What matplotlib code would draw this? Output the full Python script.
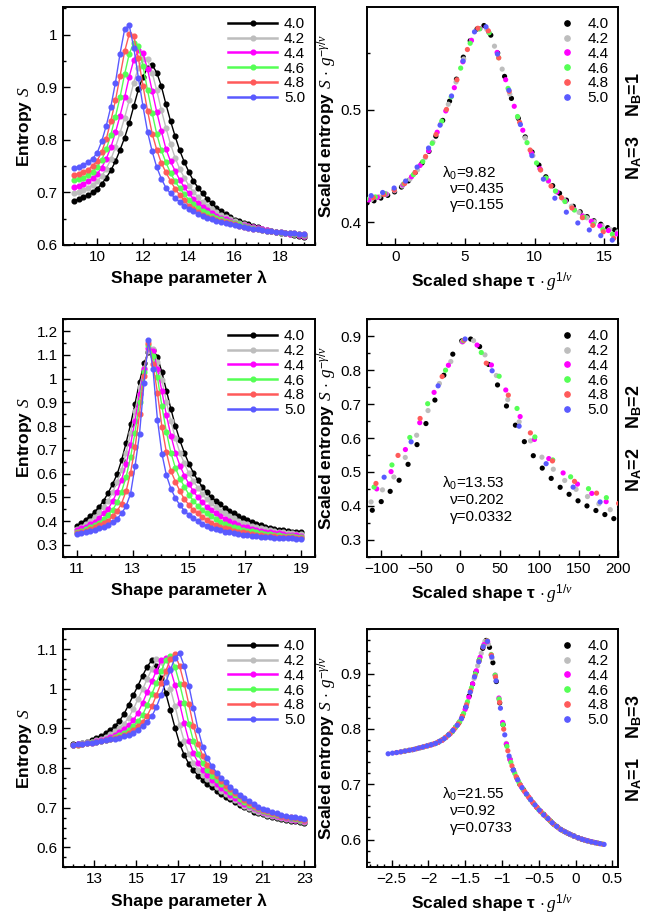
import numpy as np
import matplotlib
matplotlib.use('Agg')
import matplotlib.pyplot as plt
from matplotlib.ticker import MultipleLocator, FuncFormatter
from matplotlib.lines import Line2D

plt.rcParams['font.family'] = ['Liberation Sans', 'DejaVu Sans']
plt.rcParams['mathtext.fontset'] = 'custom'
plt.rcParams['mathtext.rm'] = 'Liberation Sans'
plt.rcParams['mathtext.it'] = 'Liberation Serif:italic'
plt.rcParams['mathtext.bf'] = 'Liberation Sans:bold'

# ---------------- data ----------------
g_values = [4.0, 4.2, 4.4, 4.6, 4.8, 5.0]
g_labels = ['4.0', '4.2', '4.4', '4.6', '4.8', '5.0']
colors = ['#000000', '#bdbdbd', '#ff00ff', '#55ff55', '#ff5a5a', '#5a5aff']

# shape parameter grids (51 points each)
lam_top_start, lam_top_stop = 9.0, 19.0
lam_mid_start, lam_mid_stop = 11.0, 19.0
lam_bot_start, lam_bot_stop = 12.0, 23.0
n_points = 51

# fit parameters printed in the panels
lam0_top, nu_top, gam_top = 9.82, 0.435, 0.155
lam0_mid, nu_mid, gam_mid = 13.53, 0.202, 0.0332
lam0_bot, nu_bot, gam_bot = 21.55, 0.92, 0.0733

# ---- top row (N_A=3, N_B=1) ----
top_g40 = [0.684,0.687,0.691,0.695,0.700,0.707,0.716,0.728,0.742,0.759,0.781,0.804,0.832,0.864,0.896,0.920,0.937,0.942,0.928,0.902,0.868,0.836,0.807,0.780,0.758,0.739,0.722,0.709,0.698,0.688,0.679,0.671,0.664,0.658,0.653,0.648,0.645,0.642,0.639,0.636,0.634,0.631,0.629,0.627,0.625,0.623,0.622,0.620,0.619,0.618,0.616]
top_g42 = [0.699,0.701,0.705,0.709,0.714,0.721,0.731,0.745,0.763,0.786,0.813,0.842,0.875,0.909,0.937,0.954,0.953,0.928,0.894,0.857,0.823,0.792,0.766,0.745,0.728,0.713,0.701,0.691,0.682,0.674,0.668,0.662,0.657,0.653,0.649,0.645,0.642,0.640,0.637,0.635,0.633,0.631,0.629,0.627,0.625,0.624,0.622,0.621,0.620,0.619,0.617]
top_g44 = [0.711,0.712,0.716,0.721,0.727,0.735,0.747,0.764,0.786,0.814,0.846,0.881,0.920,0.952,0.970,0.965,0.934,0.893,0.853,0.817,0.783,0.759,0.741,0.724,0.710,0.698,0.688,0.680,0.673,0.666,0.661,0.656,0.652,0.649,0.6455,0.6425,0.640,0.638,0.636,0.634,0.632,0.630,0.628,0.6265,0.625,0.6235,0.6225,0.6215,0.6205,0.619,0.618]
top_g46 = [0.723,0.725,0.728,0.733,0.739,0.748,0.762,0.782,0.810,0.844,0.881,0.925,0.963,0.985,0.979,0.941,0.894,0.851,0.811,0.780,0.757,0.737,0.721,0.708,0.697,0.686,0.678,0.671,0.665,0.660,0.656,0.652,0.649,0.6465,0.644,0.641,0.639,0.637,0.635,0.633,0.631,0.629,0.6275,0.626,0.6245,0.6235,0.6225,0.622,0.621,0.620,0.619]
top_g48 = [0.734,0.735,0.738,0.743,0.750,0.760,0.777,0.802,0.836,0.875,0.921,0.968,1.001,0.997,0.955,0.903,0.855,0.812,0.781,0.756,0.738,0.722,0.707,0.695,0.685,0.675,0.668,0.662,0.657,0.654,0.651,0.648,0.645,0.643,0.641,0.639,0.637,0.635,0.633,0.631,0.630,0.628,0.627,0.626,0.625,0.624,0.6235,0.623,0.622,0.621,0.620]
top_g50 = [0.746,0.749,0.752,0.757,0.764,0.775,0.797,0.827,0.863,0.909,0.964,1.010,1.018,0.975,0.918,0.864,0.815,0.778,0.748,0.726,0.709,0.698,0.689,0.682,0.675,0.669,0.664,0.659,0.655,0.652,0.649,0.646,0.644,0.642,0.640,0.638,0.636,0.634,0.6325,0.631,0.6295,0.628,0.627,0.626,0.625,0.624,0.6235,0.623,0.622,0.6215,0.621]

# ---- middle row (N_A=2, N_B=2) ----
mid_g40 = [0.379,0.392,0.406,0.421,0.439,0.460,0.486,0.518,0.556,0.597,0.656,0.729,0.807,0.894,0.986,1.064,1.113,1.120,1.092,1.026,0.950,0.872,0.801,0.740,0.688,0.642,0.604,0.571,0.545,0.521,0.502,0.485,0.470,0.455,0.443,0.432,0.421,0.4115,0.403,0.396,0.389,0.3825,0.377,0.372,0.368,0.364,0.361,0.358,0.356,0.354,0.352]
mid_g42 = [0.367,0.377,0.389,0.401,0.419,0.437,0.458,0.486,0.521,0.566,0.614,0.687,0.770,0.862,0.963,1.045,1.118,1.123,1.070,0.993,0.903,0.820,0.749,0.688,0.643,0.601,0.568,0.541,0.514,0.492,0.475,0.458,0.444,0.433,0.423,0.411,0.402,0.394,0.386,0.3795,0.375,0.370,0.365,0.361,0.358,0.355,0.3525,0.350,0.348,0.3465,0.345]
mid_g44 = [0.361,0.369,0.377,0.387,0.397,0.414,0.432,0.451,0.483,0.523,0.574,0.639,0.722,0.823,0.937,1.039,1.128,1.115,1.040,0.946,0.846,0.760,0.688,0.634,0.592,0.557,0.526,0.500,0.479,0.461,0.445,0.434,0.422,0.410,0.399,0.391,0.3835,0.377,0.373,0.368,0.363,0.359,0.356,0.353,0.350,0.348,0.3455,0.3435,0.342,0.3405,0.339]
mid_g46 = [0.355,0.360,0.366,0.374,0.385,0.394,0.4075,0.427,0.447,0.479,0.524,0.585,0.669,0.773,0.901,1.028,1.140,1.095,1.005,0.883,0.775,0.688,0.624,0.579,0.545,0.512,0.485,0.464,0.4455,0.433,0.420,0.408,0.397,0.388,0.380,0.3745,0.369,0.364,0.360,0.3565,0.353,0.350,0.3475,0.345,0.343,0.341,0.339,0.3375,0.336,0.335,0.334]
mid_g48 = [0.351,0.355,0.360,0.367,0.374,0.3835,0.392,0.401,0.421,0.442,0.474,0.526,0.603,0.710,0.851,1.011,1.150,1.062,0.940,0.796,0.689,0.611,0.566,0.527,0.4925,0.468,0.446,0.432,0.419,0.405,0.394,0.385,0.377,0.371,0.365,0.360,0.356,0.352,0.349,0.346,0.3435,0.341,0.339,0.337,0.3355,0.334,0.333,0.332,0.331,0.3305,0.330]
mid_g50 = [0.345,0.349,0.353,0.358,0.363,0.369,0.376,0.385,0.396,0.410,0.432,0.463,0.515,0.631,0.767,0.982,1.162,1.040,0.827,0.683,0.593,0.536,0.497,0.467,0.444,0.426,0.411,0.399,0.389,0.380,0.372,0.366,0.361,0.356,0.352,0.348,0.345,0.342,0.340,0.338,0.336,0.3345,0.333,0.332,0.3305,0.3295,0.3285,0.3275,0.327,0.3265,0.326]

# ---- bottom row (N_A=1, N_B=3) ----
bot_g40 = [0.860,0.862,0.864,0.867,0.871,0.876,0.882,0.888,0.897,0.906,0.919,0.937,0.960,0.984,1.008,1.033,1.056,1.072,1.058,1.027,0.989,0.946,0.902,0.862,0.833,0.811,0.795,0.781,0.771,0.761,0.752,0.743,0.735,0.7275,0.721,0.714,0.7075,0.701,0.696,0.6906,0.6868,0.6832,0.680,0.677,0.674,0.6716,0.6693,0.6675,0.6657,0.6642,0.6627]
bot_g42 = [0.859,0.861,0.863,0.865,0.867,0.8705,0.874,0.8795,0.8855,0.893,0.902,0.912,0.9275,0.9487,0.974,0.999,1.025,1.050,1.074,1.0685,1.040,1.0006,0.9566,0.909,0.8676,0.8358,0.8133,0.7963,0.7822,0.7714,0.7615,0.7518,0.743,0.7342,0.727,0.7198,0.7129,0.7057,0.700,0.6945,0.6902,0.6864,0.6829,0.6797,0.6767,0.674,0.6717,0.6698,0.668,0.6663,0.6649]
bot_g44 = [0.858,0.860,0.862,0.864,0.866,0.868,0.8705,0.874,0.8778,0.884,0.8904,0.8992,0.9084,0.9207,0.9397,0.9646,0.992,1.0185,1.046,1.0716,1.0779,1.0498,1.0097,0.9631,0.9134,0.8695,0.837,0.8139,0.7963,0.7824,0.7712,0.7609,0.751,0.7418,0.7332,0.7258,0.7183,0.7107,0.7041,0.6983,0.6935,0.6894,0.6857,0.6823,0.6792,0.6764,0.674,0.6719,0.6702,0.6685,0.6669]
bot_g46 = [0.858,0.8595,0.861,0.863,0.865,0.867,0.8693,0.8717,0.8742,0.8784,0.883,0.8897,0.8971,0.9068,0.9182,0.9348,0.959,0.9873,1.0152,1.0443,1.072,1.083,1.0553,1.0132,0.9645,0.912,0.8678,0.8352,0.8123,0.795,0.7812,0.7698,0.7591,0.749,0.7392,0.7313,0.7234,0.7156,0.7081,0.702,0.6966,0.6923,0.6883,0.6847,0.6814,0.6784,0.676,0.6739,0.6721,0.6702,0.6688]
bot_g48 = [0.858,0.8594,0.861,0.8626,0.8642,0.8663,0.8685,0.8707,0.873,0.8755,0.879,0.8834,0.8895,0.8964,0.9061,0.9166,0.9322,0.9558,0.9847,1.0145,1.0445,1.074,1.0866,1.0575,1.013,0.9608,0.906,0.8618,0.8309,0.8089,0.7918,0.779,0.7676,0.7562,0.7462,0.737,0.7287,0.7204,0.712,0.7056,0.6996,0.6952,0.6909,0.6871,0.6836,0.6804,0.678,0.6759,0.6739,0.672,0.6705]
bot_g50 = [0.8584,0.8597,0.861,0.8625,0.8642,0.8659,0.8675,0.870,0.8722,0.8746,0.8771,0.8798,0.8844,0.8896,0.897,0.9062,0.917,0.9309,0.9544,0.9848,1.0164,1.0474,1.0781,1.0894,1.0573,1.0082,0.952,0.8973,0.8538,0.825,0.805,0.7888,0.776,0.764,0.7532,0.7426,0.7328,0.7252,0.7166,0.7093,0.7026,0.698,0.6935,0.6895,0.6859,0.6825,0.680,0.6778,0.6758,0.674,0.6723]

rows = [
    dict(lam=np.linspace(lam_top_start, lam_top_stop, n_points),
         S=[top_g40, top_g42, top_g44, top_g46, top_g48, top_g50],
         lam0=lam0_top, nu=nu_top, gam=gam_top,
         fit_txt=['λ$_0$=9.82', 'ν=0.435', 'γ=0.155'],
         na_nb=r'N$_\mathbf{A}$=3    N$_\mathbf{B}$=1'),
    dict(lam=np.linspace(lam_mid_start, lam_mid_stop, n_points),
         S=[mid_g40, mid_g42, mid_g44, mid_g46, mid_g48, mid_g50],
         lam0=lam0_mid, nu=nu_mid, gam=gam_mid,
         fit_txt=['λ$_0$=13.53', 'ν=0.202', 'γ=0.0332'],
         na_nb=r'N$_\mathbf{A}$=2    N$_\mathbf{B}$=2'),
    dict(lam=np.linspace(lam_bot_start, lam_bot_stop, n_points),
         S=[bot_g40, bot_g42, bot_g44, bot_g46, bot_g48, bot_g50],
         lam0=lam0_bot, nu=nu_bot, gam=gam_bot,
         fit_txt=['λ$_0$=21.55', 'ν=0.92', 'γ=0.0733'],
         na_nb=r'N$_\mathbf{A}$=1    N$_\mathbf{B}$=3'),
]

# ---------------- layout ----------------
W, H = 662, 916
fig = plt.figure(figsize=(W / 100, H / 100), dpi=100)

def px_axes(x0, y0, x1, y1):
    return fig.add_axes([x0 / W, 1 - y1 / H, (x1 - x0) / W, (y1 - y0) / H])

row_y = [(7.3, 245.0), (319.3, 556.7), (629.3, 867.3)]
left_x = (62.7, 315.0)
right_x = (366.7, 618.3)

left_lims = [((8.5, 19.5), (0.6, 1.052)), ((10.5, 19.5), (0.25, 1.25)), ((11.5, 23.5), (0.55, 1.15))]
right_lims = [((-2.05, 16.0), (0.380, 0.591)), ((-118, 200), (0.25, 0.95)), ((-2.84, 0.58), (0.55, 0.98))]
left_xticks = [(2, 0.5), (2, 0.5), (2, 0.5)]
left_xstart = [10, 11, 13]
left_yticks = [(0.1, 0.05), (0.1, 0.05), (0.1, 0.025)]
right_xticks = [(5, 1), (50, 25), (0.5, 0.1)]
right_yticks = [(0.1, 0.05), (0.1, 0.05), (0.1, 0.02)]
fit_y = [(0.303, 0.236, 0.168), (0.310, 0.239, 0.168), (0.308, 0.237, 0.166)]

fmt = FuncFormatter(lambda v, p: ('%g' % round(v, 6)).replace('-', '\u2212'))

def style(ax):
    for s in ax.spines.values():
        s.set_linewidth(1.4)
    ax.tick_params(which='both', direction='in', top=False, right=False, labelsize=11, width=1.0)
    ax.tick_params(which='major', length=5)
    ax.tick_params(which='minor', length=2.5)
    ax.xaxis.set_major_formatter(fmt)
    ax.yaxis.set_major_formatter(fmt)

label_kw = dict(fontsize=12.5, fontweight='bold')

for i, row in enumerate(rows):
    y0, y1 = row_y[i]
    axL = px_axes(left_x[0], y0, left_x[1], y1)
    axR = px_axes(right_x[0], y0, right_x[1], y1)
    style(axL); style(axR)
    lam = row['lam']
    handlesL, handlesR = [], []
    for g, lab, c, S in zip(g_values, g_labels, colors, row['S']):
        S = np.asarray(S)
        axL.plot(lam, S, '-o', color=c, lw=1.0, ms=3.4, mec=c, mfc=c)
        handlesL.append(Line2D([], [], color=c, lw=1.8, marker='o', ms=3.4, label=lab))
        xs = (lam - row['lam0']) / row['lam0'] * g ** (1.0 / row['nu'])
        ys = S * g ** (-row['gam'] / row['nu'])
        axR.scatter(xs, ys, s=14, color=c, edgecolors='none', zorder=3)
        handlesR.append(Line2D([], [], color=c, lw=0, marker='o', ms=3.8, label=lab))

    (xl, yl) = left_lims[i]
    axL.set_xlim(*xl); axL.set_ylim(*yl)
    mj, mn = left_xticks[i]
    axL.xaxis.set_major_locator(MultipleLocator(mj, offset=left_xstart[i] % 2))
    axL.xaxis.set_minor_locator(MultipleLocator(mn))
    axL.yaxis.set_major_locator(MultipleLocator(left_yticks[i][0]))
    axL.yaxis.set_minor_locator(MultipleLocator(left_yticks[i][1]))
    axL.set_xlabel('Shape parameter λ', labelpad=5, **label_kw)
    axL.set_ylabel('Entropy $S$', **label_kw)
    axL.yaxis.set_label_coords((34 - left_x[0]) / (left_x[1] - left_x[0]), 0.5)
    axL.legend(handles=handlesL, loc='upper right', frameon=False, fontsize=11,
               handlelength=3.2, handletextpad=0.45, labelspacing=0.05,
               borderaxespad=0.45, borderpad=0.2)

    (xr, yr) = right_lims[i]
    axR.set_xlim(*xr); axR.set_ylim(*yr)
    axR.xaxis.set_major_locator(MultipleLocator(right_xticks[i][0]))
    axR.xaxis.set_minor_locator(MultipleLocator(right_xticks[i][1]))
    axR.yaxis.set_major_locator(MultipleLocator(right_yticks[i][0]))
    axR.yaxis.set_minor_locator(MultipleLocator(right_yticks[i][1]))
    axR.set_xlabel(r'Scaled shape τ $\cdot\, g^{1/\nu}$', labelpad=5, **label_kw)
    axR.set_ylabel(r'Scaled entropy $S\,\cdot\, g^{-\gamma/\nu}$', **label_kw)
    axR.yaxis.set_label_coords((339 - right_x[0]) / (right_x[1] - right_x[0]), 0.5)
    axR.legend(handles=handlesR, loc='upper right', frameon=False, fontsize=11,
               handlelength=0.8, handletextpad=0.9, labelspacing=0.05,
               borderaxespad=0.45, borderpad=0.2)

    fy = fit_y[i]
    axR.text(0.299, fy[0], row['fit_txt'][0], transform=axR.transAxes, fontsize=11, ha='left', va='center')
    axR.text(0.331, fy[1], row['fit_txt'][1], transform=axR.transAxes, fontsize=11, ha='left', va='center')
    axR.text(0.331, fy[2], row['fit_txt'][2], transform=axR.transAxes, fontsize=11, ha='left', va='center')

    fig.text(634 / W, 1 - (y0 + y1) / 2 / H, row['na_nb'], rotation=90, fontsize=13,
             fontweight='bold', ha='center', va='center')

fig.savefig('out.png', dpi=100)
